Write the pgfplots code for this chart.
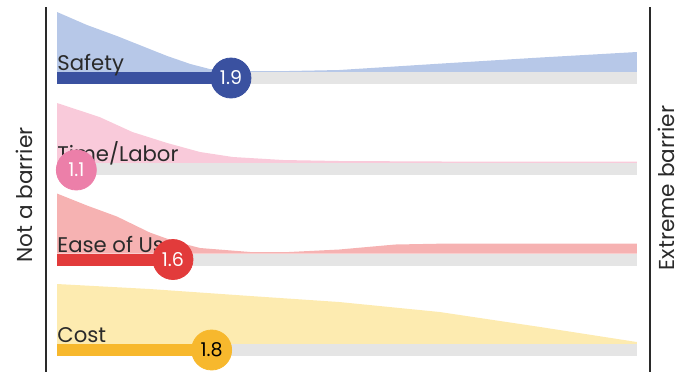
\documentclass[border=0pt]{standalone}
\usepackage{pgfplots}
\pgfplotsset{compat=1.18}
\usepackage{pgfplotstable}
\usepackage{fontspec}
\setmainfont{Poppins}

\definecolor{safetyD}{HTML}{3A51A0}
\definecolor{safetyL}{HTML}{B7C8E8}
\definecolor{timeD}{HTML}{EC7FA9}
\definecolor{timeL}{HTML}{F9CADA}
\definecolor{easeD}{HTML}{E23B3B}
\definecolor{easeL}{HTML}{F6B2B2}
\definecolor{costD}{HTML}{F7B82D}
\definecolor{costL}{HTML}{FDEBB0}
\definecolor{barG}{HTML}{E5E5E5}
\definecolor{txt}{HTML}{2A2A2A}

\tikzset{
  rlab/.style={anchor=base west, inner sep=0pt, text=txt, font=\fontsize{10.6}{12}\selectfont},
  slab/.style={rotate=90, anchor=base, inner sep=0pt, text=txt, font=\fontsize{10.8}{12}\selectfont},
}

% distribution heights (px above bar) along the 1-4 scale
\pgfplotstableread{
x h
1.0 0
1.0 60
1.155 47
1.31 36
1.44 26
1.57 16
1.69 8
1.79 3
1.92 1
2.2 1
2.46 2
3.0 8.6
3.5 14.5
4.0 20
4.0 0
}\safety
\pgfplotstableread{
x h
1.0 0
1.0 60
1.11 53
1.22 46
1.39 31
1.57 20
1.74 11
1.91 6
2.17 3
2.46 2
3.0 1.5
4.0 1.5
4.0 0
}\timelabor
\pgfplotstableread{
x h
1.0 0
1.0 60
1.155 48
1.31 37
1.48 21
1.61 12
1.74 5.5
2.0 1.5
2.2 1.5
2.46 4
2.75 9
3.03 10
4.0 10
4.0 0
}\ease
\pgfplotstableread{
x h
1.0 0
1.0 60
1.48 55
2.0 48
2.46 42
2.98 32
3.5 17
4.0 2
4.0 0
}\cost

\begin{document}
\begin{tikzpicture}
\begin{axis}[
  width=340.5pt, height=188.5pt, scale only axis,
  xmin=0.7051, xmax=4.2282, ymin=0, ymax=377, y dir=reverse,
  hide axis, clip=false,
  vlab/.style={only marks, mark=*, mark size=10pt,
    nodes near coords, point meta=explicit symbolic,
    nodes near coords style={anchor=center, font=\fontsize{9.5}{10}\selectfont, inner sep=0pt}},
]
% fixed picture frame
\path (axis cs:0.7051,0) rectangle (axis cs:4.2282,377);
% areas
\addplot[fill=safetyL, draw=none] table[x=x, y expr=72-\thisrow{h}] {\safety};
\addplot[fill=timeL, draw=none] table[x=x, y expr=163-\thisrow{h}] {\timelabor};
\addplot[fill=easeL, draw=none] table[x=x, y expr=253.5-\thisrow{h}] {\ease};
\addplot[fill=costL, draw=none] table[x=x, y expr=344-\thisrow{h}] {\cost};
% gray bars
\addplot[line width=6pt, color=barG] coordinates {(1.9,78)(4,78)};
\addplot[line width=6pt, color=barG] coordinates {(1.1,169)(4,169)};
\addplot[line width=6pt, color=barG] coordinates {(1.6,259.5)(4,259.5)};
\addplot[line width=6pt, color=barG] coordinates {(1.8,350)(4,350)};
% value bars
\addplot[line width=6pt, color=safetyD] coordinates {(1,78)(1.9,78)};
\addplot[line width=6pt, color=timeD] coordinates {(1,169)(1.1,169)};
\addplot[line width=6pt, color=easeD] coordinates {(1,259.5)(1.6,259.5)};
\addplot[line width=6pt, color=costD] coordinates {(1,350)(1.8,350)};
% row labels
\node[rlab] at (axis cs:1,70) {Safety};
\node[rlab] at (axis cs:1,161.5) {Time/Labor};
\node[rlab] at (axis cs:1,252) {Ease of Use};
\node[rlab] at (axis cs:1,342.5) {Cost};
% value circles
\addplot[vlab, color=safetyD, nodes near coords style={text=white}] coordinates {(1.9,78) [1.9]};
\addplot[vlab, color=timeD, nodes near coords style={text=white}] coordinates {(1.1,170) [1.1]};
\addplot[vlab, color=easeD, nodes near coords style={text=white}] coordinates {(1.6,259.5) [1.6]};
\addplot[vlab, color=costD, nodes near coords style={text=black}] coordinates {(1.8,350) [1.8]};
% side lines and labels
\draw[line width=1pt, color=txt] (axis cs:0.9431,7) -- (axis cs:0.9431,372);
\draw[line width=1pt, color=txt] (axis cs:4.0678,7) -- (axis cs:4.0678,372);
\node[slab] at (axis cs:0.8758,195) {Not a barrier};
\node[slab] at (axis cs:4.1971,188) {Extreme barrier};
\end{axis}
\end{tikzpicture}
\end{document}
